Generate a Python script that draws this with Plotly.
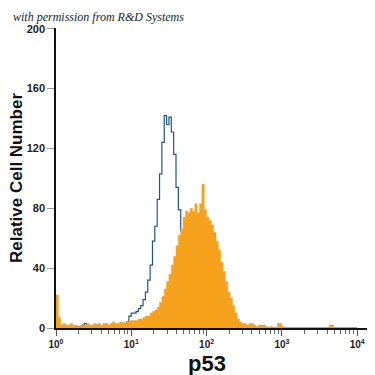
import numpy as np
import plotly.graph_objects as go

# Histogram binning (log10 decades)
LOG_MIN = 0.0
LOG_MAX = 4.0
N_BINS = 128

# Isotype control (blue outline), counts per bin
control_counts = [
    0, 1, 0, 1, 1, 1, 0, 1, 1, 1,
    1, 2, 3, 2, 1, 1, 1, 2, 1, 1,
    1, 2, 1, 1, 2, 1, 2, 2, 3, 3,
    4, 8, 10, 10, 11, 13, 15, 19, 24, 32,
    42, 58, 68, 86, 103, 124, 142, 136, 141, 131,
    116, 94, 79, 65, 52, 40, 29, 20, 13, 8,
    5, 3, 2, 1, 1, 1, 0, 1, 0, 0,
    0, 0, 0, 0, 0, 0, 0, 0, 0, 0,
    0, 0, 0, 0, 0, 0, 0, 0, 0, 0,
    0, 0, 0, 0, 0, 0, 0, 0, 0, 0,
    0, 0, 0, 0, 0, 0, 0, 0, 0, 0,
    0, 0, 0, 0, 0, 0, 0, 0, 0, 0,
    0, 0, 0, 0, 0, 0, 0, 0,
]

# p53 stained (orange filled), counts per bin
p53_counts = [
    22, 7, 2, 3, 2, 2, 3, 2, 2, 1,
    1, 2, 2, 3, 2, 2, 3, 2, 3, 2,
    3, 3, 2, 3, 4, 3, 3, 4, 4, 3,
    4, 5, 5, 5, 5, 6, 6, 7, 8, 8,
    10, 11, 12, 14, 17, 21, 26, 31, 36, 42,
    48, 55, 62, 66, 74, 78, 77, 80, 78, 83,
    77, 83, 96, 79, 74, 72, 69, 64, 58, 52,
    44, 38, 31, 24, 20, 15, 10, 6, 4, 3,
    3, 2, 3, 3, 2, 1, 2, 2, 2, 1,
    0, 1, 0, 0, 3, 3, 1, 0, 0, 0,
    0, 0, 0, 0, 0, 0, 0, 0, 0, 0,
    0, 0, 0, 0, 0, 0, 2, 2, 0, 0,
    0, 0, 0, 0, 0, 0, 0, 0,
]

major_tickvals = [1, 10, 100, 1000, 10000]
major_ticktext = ["10<sup>0</sup>", "10<sup>1</sup>", "10<sup>2</sup>",
                  "10<sup>3</sup>", "10<sup>4</sup>"]
minor_tickvals = [m * 10 ** d for d in range(4) for m in range(2, 10)]
y_tickvals = [0, 40, 80, 120, 160, 200]

edges = 10 ** np.linspace(LOG_MIN, LOG_MAX, N_BINS + 1)


def step_xy(counts):
    x = list(edges[:-1]) + [edges[-1]]
    y = list(counts) + [counts[-1]]
    return x, y


fig = go.Figure()

cx, cy = step_xy(control_counts)
fig.add_trace(go.Scatter(
    x=cx, y=cy, mode="lines", line=dict(shape="hv", color="#21577f", width=1.2),
    hoverinfo="skip", showlegend=False,
))

px, py = step_xy(p53_counts)
fig.add_trace(go.Scatter(
    x=px, y=py, mode="lines", line=dict(shape="hv", color="#f7a21d", width=0.5),
    fill="tozeroy", fillcolor="#f7a21d", hoverinfo="skip", showlegend=False,
))

# page body has an 8px margin; work in window pixels and convert
OFF = 8
W = H = 375 - OFF
L, T = 56 - OFF, 28 - OFF
R = W - (370 - OFF)
B = H - (328 - OFF)
pw = W - L - R
ph = H - T - B


def px_x(wx):
    return (wx - OFF - L) / pw


def px_y(wy):
    return 1 - (wy - OFF - T) / ph


fig.update_layout(
    width=W, height=H,
    margin=dict(l=L, r=R, t=T, b=B, autoexpand=False),
    paper_bgcolor="white", plot_bgcolor="white",
    hovermode=False,
    font=dict(family="Liberation Sans, Arial, sans-serif", color="#1a1a1a"),
    xaxis=dict(
        type="log", range=[0, 4.17], showgrid=False, zeroline=False,
        showline=True, linecolor="#111", linewidth=1.5,
        tickmode="array", tickvals=major_tickvals, ticktext=major_ticktext,
        ticks="outside", ticklen=6, tickwidth=1, tickcolor="#555",
        tickfont=dict(size=10, weight="bold", color="#222"),
        minor=dict(tickmode="array", tickvals=minor_tickvals, ticks="outside",
                   ticklen=4, tickwidth=1, tickcolor="#666"),
        automargin=False,
    ),
    yaxis=dict(
        range=[0, 200.5], showgrid=False, zeroline=False,
        showline=True, linecolor="#111", linewidth=1.5,
        tickmode="array", tickvals=y_tickvals,
        ticks="outside", ticklen=7, tickwidth=1, tickcolor="#999",
        tickfont=dict(size=11, weight="bold", color="#222"),
        automargin=False,
    ),
    annotations=[
        dict(text="<b>Relative Cell Number</b>", xref="paper", yref="paper",
             x=px_x(16), y=0.5, xanchor="center", yanchor="middle",
             textangle=-90, showarrow=False, borderpad=0,
             font=dict(size=17, color="#111")),
        dict(text="<b>p53</b>", xref="paper", yref="paper",
             x=px_x(207), y=px_y(363),
             xanchor="center", yanchor="middle", showarrow=False,
             font=dict(size=22, color="#111")),
        dict(text="<i>with permission from R&amp;D Systems</i>", xref="paper", yref="paper",
             x=px_x(11), y=px_y(17), xanchor="left", yanchor="middle",
             showarrow=False,
             font=dict(size=12, family="Liberation Serif, serif", color="#222")),
    ],
)

fig.write_html("out.html")
